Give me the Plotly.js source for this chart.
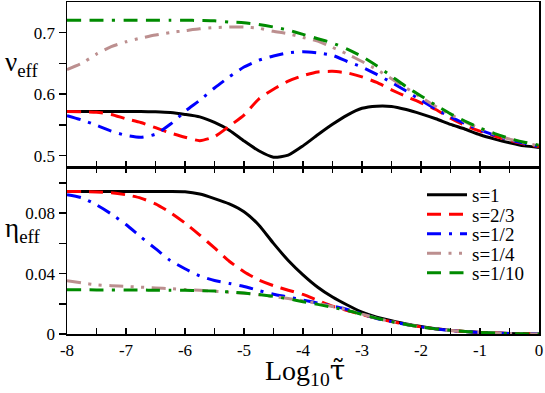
<!DOCTYPE html>
<html>
<head>
<meta charset="utf-8">
<script src="https://cdn.plot.ly/plotly-3.0.1.min.js"></script>
<style>
  html,body{margin:0;padding:0;background:#fff;}
  #chart{width:545px;height:393px;}
</style>
</head>
<body>
<div id="chart"></div>
<script>
// log10 of tau-tilde, shared by every curve
const logTau = [-8,-7.75,-7.5,-7.25,-7,-6.75,-6.5,-6.25,-6,-5.75,-5.5,-5.25,-5,-4.75,-4.5,-4.25,-4,
  -3.75,-3.5,-3.25,-3,-2.75,-2.5,-2.25,-2,-1.75,-1.5,-1.25,-1,-0.75,-0.5,-0.25,0];

// nu_eff (top panel)
const nu_s1   = [0.572,0.572,0.572,0.572,0.572,0.5718,0.5712,0.570,0.567,0.563,0.554,0.5415,0.524,0.508,0.4977,0.501,0.516,
  0.534,0.551,0.566,0.577,0.5805,0.580,0.575,0.568,0.560,0.551,0.543,0.534,0.527,0.521,0.516,0.5135];
const nu_s23  = [0.572,0.5715,0.5705,0.567,0.560,0.554,0.5455,0.537,0.530,0.5245,0.531,0.548,0.566,0.592,0.608,0.621,0.630,
  0.636,0.637,0.6345,0.628,0.619,0.607,0.596,0.586,0.575,0.561,0.549,0.540,0.532,0.525,0.519,0.515];
const nu_s12  = [0.565,0.558,0.5495,0.540,0.533,0.530,0.535,0.551,0.572,0.590,0.610,0.628,0.644,0.655,0.662,0.667,0.669,
  0.667,0.663,0.653,0.644,0.632,0.619,0.605,0.590,0.576,0.563,0.552,0.542,0.533,0.526,0.520,0.515];
const nu_s14  = [0.640,0.650,0.665,0.677,0.685,0.691,0.696,0.700,0.703,0.706,0.708,0.709,0.709,0.707,0.702,0.698,0.692,
  0.686,0.676,0.665,0.653,0.640,0.625,0.610,0.595,0.580,0.567,0.555,0.544,0.535,0.527,0.521,0.516];
const nu_s110 = [0.720,0.720,0.720,0.720,0.720,0.720,0.720,0.720,0.720,0.7195,0.719,0.717,0.716,0.713,0.709,0.704,0.697,
  0.690,0.683,0.673,0.661,0.646,0.629,0.612,0.597,0.582,0.568,0.556,0.545,0.536,0.528,0.522,0.517];

// eta_eff (bottom panel)
const eta_s1   = [0.0944,0.0944,0.0944,0.0944,0.0944,0.0944,0.0944,0.0944,0.0942,0.0927,0.0897,0.0862,0.0810,0.0722,0.0600,0.0487,0.0392,
  0.0310,0.0245,0.0192,0.0145,0.0112,0.0088,0.0066,0.0049,0.0035,0.0024,0.0016,0.0010,0.0006,0.0003,0.0001,0];
const eta_s23  = [0.0944,0.0943,0.0940,0.0935,0.0922,0.0900,0.0862,0.0805,0.0735,0.0655,0.0570,0.0482,0.0412,0.0358,0.0320,0.0290,0.0262,
  0.0222,0.0184,0.0155,0.0128,0.0103,0.0082,0.0063,0.0047,0.0034,0.0024,0.0016,0.0010,0.0006,0.0003,0.0001,0];
const eta_s12  = [0.0922,0.0902,0.0855,0.0795,0.0725,0.0643,0.0565,0.0487,0.0432,0.0385,0.0354,0.0335,0.0315,0.0288,0.0263,0.0245,0.0225,
  0.0205,0.0185,0.0163,0.0132,0.0103,0.0082,0.0063,0.0047,0.0034,0.0024,0.0016,0.0010,0.0006,0.0003,0.0001,0];
const eta_s14  = [0.0353,0.0338,0.0326,0.0320,0.0315,0.0310,0.0305,0.0300,0.0295,0.0290,0.0284,0.0277,0.0270,0.0260,0.0248,0.0235,0.0220,
  0.0202,0.0182,0.0160,0.0132,0.0104,0.0082,0.0063,0.0047,0.0034,0.0024,0.0016,0.0010,0.0006,0.0003,0.0001,0];
const eta_s110 = [0.0293,0.0293,0.0292,0.0292,0.0291,0.0291,0.0290,0.0290,0.0289,0.0287,0.0284,0.0279,0.0271,0.0261,0.0249,0.0233,0.0214,
  0.0196,0.0176,0.0156,0.0130,0.0104,0.0082,0.0063,0.0047,0.0034,0.0024,0.0016,0.0010,0.0006,0.0003,0.0001,0];

const seriesNames = ['s=1','s=2/3','s=1/2','s=1/4','s=1/10'];
const nuSeries  = [nu_s1, nu_s23, nu_s12, nu_s14, nu_s110];
const etaSeries = [eta_s1, eta_s23, eta_s12, eta_s14, eta_s110];

const xTickVals = [-8,-7.5,-7,-6.5,-6,-5.5,-5,-4.5,-4,-3.5,-3,-2.5,-2,-1.5,-1,-0.5,0];
const xTickText = ['-8','','-7','','-6','','-5','','-4','','-3','','-2','','-1','','0'];
const nuTickVals = [0.5,0.55,0.6,0.65,0.7];
const nuTickText = ['0.5','','0.6','','0.7'];
const etaTickVals = [0,0.02,0.04,0.06,0.08,0.1];
const etaTickText = ['0','','0.04','','0.08',''];

const colors = ['#000000','#ff0000','#0000ff','#bc8f8f','#008b00'];
// solid, dashed, dash-dot, dash-dot-dot, dash-dash-dot
const dashes = ['solid','14px,8px','14px,8px,3px,8px','14px,7.5px,3px,7.5px,3px,7.5px','14px,8.5px,14px,8.5px,3px,8.5px'];
const legendIds = ['legend','legend2','legend3','legend4','legend5'];
const legendRows = [195,214.5,234,253.5,273]; // pixel rows of the legend entries

const serif = 'Liberation Serif, Times New Roman, serif';
const W = 545, H = 393;
const M = {l:67, r:6, t:2, b:59};
const plotH = H - M.t - M.b;
const plotW = W - M.l - M.r;
const split = (H - M.b - 167.3)/plotH;

const traces = [];
nuSeries.forEach((ys,i)=>{
  traces.push({x:logTau, y:ys, xaxis:'x2', yaxis:'y2', type:'scatter', mode:'lines',
    line:{color:colors[i], width:3, dash:dashes[i], shape:'spline', smoothing:0.6},
    showlegend:false, hoverinfo:'skip'});
});
etaSeries.forEach((ys,i)=>{
  traces.push({x:logTau, y:ys, xaxis:'x', yaxis:'y', type:'scatter', mode:'lines', name:seriesNames[i],
    line:{color:colors[i], width:3, dash:dashes[i], shape:'spline', smoothing:0.6},
    legend:legendIds[i], hoverinfo:'skip'});
});

const axisBase = {showline:true, linecolor:'#000', linewidth:1.5, showgrid:false, zeroline:false,
  tickcolor:'#000', tickwidth:1.5, tickfont:{family:serif, size:17, color:'#000'}};

const layout = {
  width:W, height:H, margin:M,
  paper_bgcolor:'#fff', plot_bgcolor:'#fff',
  font:{family:serif, color:'#000'},
  xaxis: Object.assign({}, axisBase, {domain:[0,1], anchor:'y', range:[-8,0],
    tickmode:'array', tickvals:xTickVals, ticktext:xTickText, ticks:'inside', ticklen:6, mirror:'ticks'}),
  xaxis2: Object.assign({}, axisBase, {domain:[0,1], anchor:'y2', matches:'x', range:[-8,0],
    tickmode:'array', tickvals:xTickVals, ticks:'inside', ticklen:6, mirror:true, showticklabels:false}),
  yaxis: Object.assign({}, axisBase, {domain:[0,split], anchor:'x', range:[0,0.1104],
    tickmode:'array', tickvals:etaTickVals, ticktext:etaTickText, ticks:'outside', ticklen:7, mirror:true}),
  yaxis2: Object.assign({}, axisBase, {domain:[split,1], anchor:'x2', range:[0.4812,0.7496],
    tickmode:'array', tickvals:nuTickVals, ticktext:nuTickText, ticks:'outside', ticklen:7, mirror:true}),
  annotations:[
    {text:'ν<sub>eff</sub>', xref:'paper', yref:'paper', x:(3-M.l)/plotW, y:(H-M.b-64)/plotH,
      xanchor:'left', yanchor:'middle', showarrow:false, font:{family:serif, size:27}},
    {text:'η<sub>eff</sub>', xref:'paper', yref:'paper', x:(3-M.l)/plotW, y:(H-M.b-230)/plotH,
      xanchor:'left', yanchor:'middle', showarrow:false, font:{family:serif, size:27}},
    {text:'Log<sub>10</sub><span style="font-family:DejaVu Serif">τ̃</span>', xref:'paper', yref:'paper',
      x:(305-M.l)/plotW, y:(H-M.b-372)/plotH,
      xanchor:'center', yanchor:'middle', showarrow:false, font:{family:serif, size:28}}
  ]
};

legendIds.forEach((id,i)=>{
  layout[id] = {x:(422-M.l)/plotW, y:(H-M.b-legendRows[i])/plotH, xanchor:'left', yanchor:'middle',
    bgcolor:'rgba(0,0,0,0)', borderwidth:0, itemwidth:40, font:{family:serif, size:19, color:'#000'}};
});

Plotly.newPlot('chart', traces, layout, {displayModeBar:false, staticPlot:true});
</script>
</body>
</html>
